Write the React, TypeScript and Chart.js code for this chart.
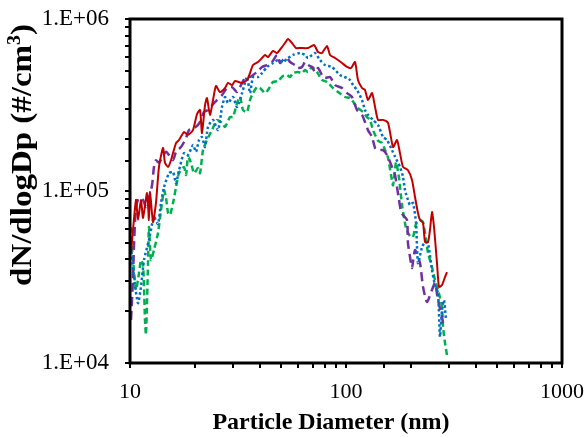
import React, { useEffect, useRef } from "react";
import { Chart, registerables } from "chart.js";

Chart.register(...registerables);

// Particle diameters (nm) and dN/dlogDp values (#/cm3) for each series
const redD = [10.11, 10.66, 10.89, 11.24, 11.49, 11.99, 12.24, 12.38, 12.78, 13.19, 13.62, 14.22, 14.52, 15.0, 15.48, 16.33, 16.86, 17.78, 18.56, 19.57, 20.43, 21.1, 21.54, 22.25, 22.72, 23.46, 24.23, 25.0, 26.1, 27.54, 28.43, 29.67, 30.64, 33.01, 34.82, 35.94, 37.12, 39.14, 40.85, 42.17, 43.55, 45.92, 47.92, 50.55, 52.2, 53.9, 56.23, 58.69, 61.24, 66.71, 71.1, 74.19, 77.43, 81.68, 84.34, 88.96, 95.83, 101.1, 105.5, 110.1, 113.6, 118.6, 122.4, 126.4, 132.0, 136.3, 140.7, 148.4, 156.5, 165.1, 172.3, 177.8, 183.6, 193.6, 202.1, 208.7, 215.4, 220.1, 227.3, 232.2, 239.7, 244.8, 250.1, 255.5, 263.8, 269.5, 278.3, 287.3, 293.5];
const redV = [43600, 88700, 67800, 88700, 69700, 97400, 67800, 98700, 66000, 85200, 138000, 178000, 146000, 138000, 151000, 190000, 198000, 220000, 212000, 226000, 280000, 296000, 217000, 316000, 347000, 277000, 338000, 408000, 376000, 397000, 425000, 413000, 436000, 425000, 442000, 485000, 540000, 562000, 593000, 618000, 601000, 652000, 634000, 687000, 725000, 765000, 725000, 678000, 678000, 678000, 706000, 643000, 634000, 697000, 618000, 593000, 555000, 526000, 519000, 562000, 442000, 397000, 387000, 338000, 371000, 308000, 259000, 259000, 249000, 180000, 198000, 166000, 138000, 132000, 116000, 92300, 74500, 67800, 65200, 50500, 50500, 59300, 75500, 61800, 38100, 27700, 28400, 31600, 33800];

const purpleD = [10.11, 10.32, 10.43, 10.66, 11.01, 11.49, 11.86, 12.24, 12.65, 12.91, 13.19, 13.62, 14.68, 15.82, 16.33, 17.22, 18.17, 18.76, 20.21, 21.1, 22.01, 22.97, 24.23, 25.28, 26.67, 28.13, 29.67, 31.3, 32.31, 34.08, 35.94, 38.73, 40.85, 43.08, 45.43, 47.92, 49.5, 51.1, 53.33, 55.05, 58.07, 59.95, 62.57, 64.6, 66.71, 69.61, 71.86, 74.19, 77.43, 79.95, 84.34, 88.96, 95.83, 101.1, 106.6, 112.4, 118.6, 122.4, 126.4, 132.0, 136.3, 140.7, 148.4, 154.8, 163.3, 168.7, 172.3, 176.0, 179.8, 183.6, 191.6, 193.6, 197.9, 202.1, 208.7, 220.1, 227.3, 237.1, 250.1, 258.2, 266.7, 278.3, 281.3];
const purpleV = [17800, 30400, 47200, 80700, 91100, 88700, 80700, 91100, 108000, 138000, 151000, 146000, 169000, 151000, 169000, 180000, 203000, 226000, 236000, 252000, 288000, 296000, 320000, 338000, 361000, 397000, 402000, 376000, 402000, 454000, 460000, 492000, 526000, 540000, 562000, 618000, 555000, 578000, 593000, 562000, 540000, 519000, 526000, 562000, 540000, 526000, 492000, 519000, 472000, 454000, 460000, 413000, 397000, 371000, 352000, 296000, 277000, 252000, 226000, 206000, 178000, 173000, 173000, 162000, 138000, 124000, 105000, 88700, 75500, 72500, 67800, 49800, 41300, 35700, 45400, 38100, 27700, 22600, 26600, 29200, 23200, 18500, 17100];

const blueD = [10.11, 10.43, 10.89, 11.24, 11.61, 12.24, 12.91, 13.48, 13.92, 14.37, 15.16, 15.82, 16.33, 16.86, 17.78, 18.56, 19.57, 20.21, 20.87, 21.54, 22.25, 22.97, 24.23, 25.56, 26.67, 27.54, 28.43, 29.99, 31.3, 33.01, 34.82, 35.94, 37.12, 39.14, 40.85, 43.08, 45.92, 48.44, 51.1, 53.9, 56.84, 61.24, 64.6, 66.71, 69.61, 71.86, 75.79, 79.95, 86.16, 93.81, 101.1, 104.4, 107.8, 112.4, 118.6, 122.4, 126.4, 133.4, 140.7, 148.4, 154.8, 163.3, 168.7, 177.8, 183.6, 187.6, 193.6, 197.9, 204.3, 210.9, 215.4, 224.9, 232.2, 239.7, 250.1, 258.2, 266.7, 272.4, 278.3, 284.3, 290.4];
const blueV = [47200, 31600, 22300, 27700, 39700, 51900, 70600, 64300, 85200, 105000, 127000, 129000, 111000, 132000, 166000, 162000, 185000, 169000, 198000, 206000, 180000, 236000, 259000, 226000, 308000, 352000, 325000, 352000, 308000, 371000, 460000, 371000, 460000, 460000, 485000, 526000, 555000, 578000, 562000, 593000, 618000, 634000, 618000, 593000, 618000, 634000, 578000, 540000, 526000, 472000, 454000, 442000, 413000, 387000, 338000, 296000, 277000, 259000, 242000, 206000, 198000, 173000, 158000, 138000, 121000, 101000, 88700, 82900, 85200, 65200, 38100, 47200, 50500, 49800, 34700, 28400, 25500, 14200, 20300, 23200, 17800];

const greenD = [10.11, 10.21, 10.43, 10.66, 11.01, 11.24, 11.49, 11.61, 11.73, 11.86, 12.12, 12.24, 12.51, 12.91, 13.48, 13.92, 14.37, 14.68, 15.0, 15.32, 15.82, 16.33, 16.86, 17.78, 18.17, 18.56, 19.16, 19.79, 20.65, 21.1, 21.78, 22.72, 23.97, 25.28, 26.67, 27.54, 29.04, 29.99, 31.3, 32.31, 33.36, 34.82, 35.94, 37.12, 38.73, 39.99, 42.17, 43.55, 45.92, 48.44, 51.1, 53.33, 55.05, 56.84, 59.95, 62.57, 64.6, 66.71, 69.61, 73.4, 77.43, 81.68, 86.16, 91.85, 98.94, 104.4, 112.4, 119.9, 125.1, 129.1, 133.4, 140.7, 146.8, 151.6, 156.5, 161.6, 165.1, 170.5, 176.0, 181.7, 189.6, 197.9, 204.3, 210.9, 220.1, 227.3, 234.7, 239.7, 250.1, 258.2, 266.7, 278.3, 281.3, 287.3, 293.5];
const greenV = [61800, 47200, 34700, 26600, 33400, 39700, 37100, 27700, 17800, 14600, 38100, 61800, 39700, 45400, 57000, 77500, 101000, 91100, 74500, 72500, 85200, 105000, 127000, 138000, 124000, 158000, 146000, 127000, 136000, 127000, 173000, 198000, 226000, 259000, 249000, 236000, 269000, 269000, 325000, 352000, 296000, 288000, 338000, 371000, 402000, 397000, 371000, 387000, 430000, 436000, 466000, 472000, 460000, 485000, 492000, 485000, 505000, 492000, 526000, 492000, 442000, 430000, 402000, 376000, 352000, 347000, 308000, 288000, 269000, 259000, 226000, 196000, 190000, 173000, 156000, 124000, 108000, 147000, 119000, 82900, 61000, 54700, 54000, 64300, 67800, 66000, 51900, 43600, 36100, 30400, 26600, 21200, 16200, 13100, 11100];

const xTickLabels = [10, 100, 1000];
const yTickLabels = [1e4, 1e5, 1e6];
const xTitle = "Particle Diameter (nm)";
const yTitleMain = "dN/dlogDp (#/cm";
const yTitleSup = "3";
const yTitleEnd = ")";

const FONT = "'Liberation Serif', 'Times New Roman', serif";

function pts(d: number[], v: number[]) {
  const n = Math.min(d.length, v.length);
  const out: { x: number; y: number }[] = [];
  for (let i = 0; i < n; i++) out.push({ x: d[i], y: v[i] });
  return out;
}

function isIn(list: number[], v: number) {
  return list.some((t) => Math.abs(t - v) < t * 1e-6);
}

const framePlugin = {
  id: "frame",
  afterDraw(chart: any) {
    const { ctx, chartArea } = chart;
    const { left, right, top, bottom } = chartArea;
    const xs = chart.scales.x;
    const ys = chart.scales.y;
    ctx.save();
    ctx.strokeStyle = "#000";
    ctx.lineWidth = 2;
    ctx.beginPath();
    xs.ticks.forEach((t: any) => {
      const p = Math.round(xs.getPixelForValue(t.value));
      ctx.moveTo(p, bottom);
      ctx.lineTo(p, bottom + 5);
    });
    ys.ticks.forEach((t: any) => {
      const p = Math.round(ys.getPixelForValue(t.value));
      ctx.moveTo(left, p);
      ctx.lineTo(left - 5, p);
    });
    ctx.stroke();
    ctx.lineWidth = 3;
    ctx.strokeRect(left, top, right - left, bottom - top);

    ctx.fillStyle = "#000";
    ctx.font = `bold 24px ${FONT}`;
    ctx.textAlign = "left";
    ctx.textBaseline = "alphabetic";
    const xw = ctx.measureText(xTitle).width;
    ctx.fillText(xTitle, 331 - xw / 2, 429);

    // y title, rotated
    ctx.translate(31, 155);
    ctx.rotate(-Math.PI / 2);
    ctx.scale(1.1, 1);
    const mainFont = `bold 30px ${FONT}`;
    const supFont = `bold 18px ${FONT}`;
    ctx.font = mainFont;
    const w1 = ctx.measureText(yTitleMain).width;
    const w3 = ctx.measureText(yTitleEnd).width;
    ctx.font = supFont;
    const w2 = ctx.measureText(yTitleSup).width;
    const total = w1 + w2 + w3;
    let x0 = -total / 2;
    ctx.font = mainFont;
    ctx.fillText(yTitleMain, x0, 0);
    x0 += w1;
    ctx.font = supFont;
    ctx.fillText(yTitleSup, x0, -11);
    x0 += w2;
    ctx.font = mainFont;
    ctx.fillText(yTitleEnd, x0, 0);
    ctx.restore();
  },
};

export default function App() {
  const ref = useRef<HTMLCanvasElement | null>(null);
  useEffect(() => {
    document.body.style.margin = "0";
    const canvas = ref.current;
    if (!canvas) return;
    const line = (data: any, color: string, dash: number[], width = 2) => ({
      data,
      borderColor: color,
      backgroundColor: color,
      borderWidth: width,
      borderDash: dash,
      borderCapStyle: "butt",
      pointRadius: 0,
      tension: 0.2,
      fill: false,
    });
    const chart = new Chart(canvas, {
      type: "line",
      data: {
        datasets: [
          line(pts(redD, redV), "#C00000", []),
          line(pts(blueD, blueV), "#0070C0", [2.5, 2.5], 2.5),
          line(pts(purpleD, purpleV), "#7030A0", [9, 5], 2.5),
          line(pts(greenD, greenV), "#00B050", [6, 3.5], 2.5),
        ] as any,
      },
      options: {
        animation: false,
        responsive: false,
        events: [],
        layout: { padding: { top: 19, right: 25, left: 0, bottom: 0 } },
        plugins: { legend: { display: false }, tooltip: { enabled: false } },
        scales: {
          x: {
            type: "logarithmic",
            min: 10,
            max: 1000,
            grid: { display: false, drawTicks: false },
            border: { display: false },
            ticks: {
              autoSkip: false,
              maxRotation: 0,
              minRotation: 0,
              padding: 16,
              color: "#000",
              font: { family: FONT, size: 22 },
              callback: (v: any) => (isIn(xTickLabels, Number(v)) ? String(Math.round(Number(v))) : ""),
            },
            afterFit: (s: any) => {
              s.height = 74;
              s.paddingLeft = 0;
              s.paddingRight = 0;
            },
          },
          y: {
            type: "logarithmic",
            min: 1e4,
            max: 1e6,
            grid: { display: false, drawTicks: false },
            border: { display: false },
            ticks: {
              autoSkip: false,
              padding: 21,
              color: "#000",
              font: { family: FONT, size: 23 },
              callback: (v: any) => {
                const n = Number(v);
                if (!isIn(yTickLabels, n)) return "";
                const e = Math.round(Math.log10(n));
                return "1.E+" + String(e).padStart(2, "0");
              },
            },
            afterFit: (s: any) => {
              s.width = 130;
              s.paddingTop = 0;
              s.paddingBottom = 0;
            },
          },
        },
      } as any,
      plugins: [framePlugin],
    });
    return () => chart.destroy();
  }, []);
  return (
    <div style={{ position: "absolute", left: 0, top: 0, width: 587, height: 437 }}>
      <canvas ref={ref} width={587} height={437} style={{ width: 587, height: 437 }} />
    </div>
  );
}
